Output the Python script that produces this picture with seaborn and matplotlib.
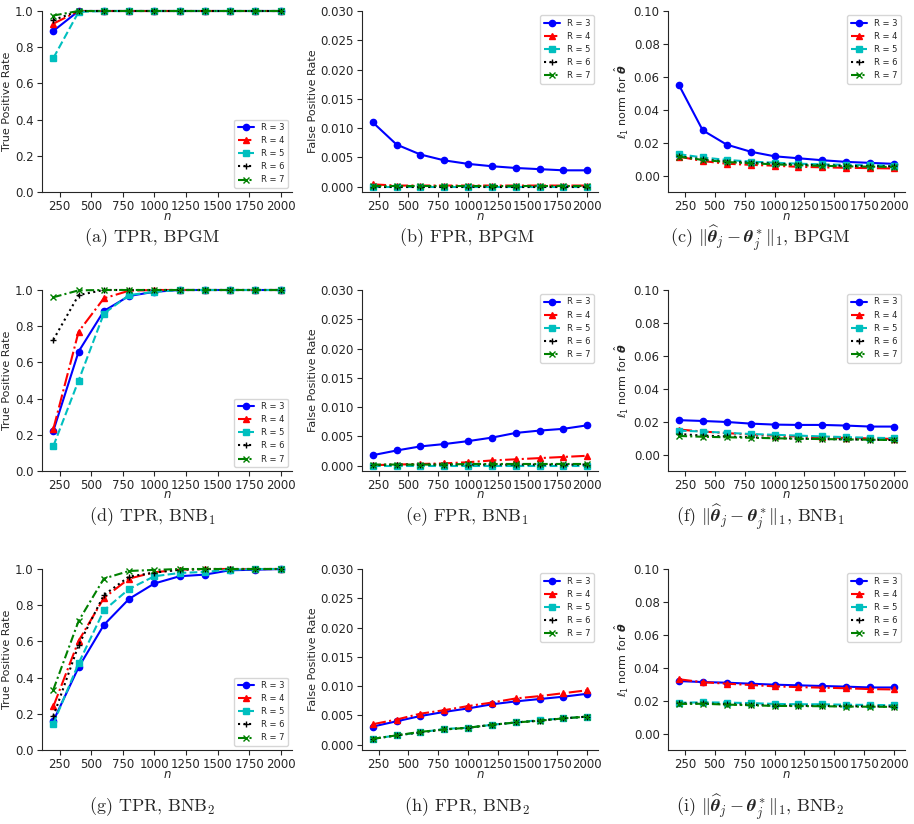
import numpy as np
import pandas as pd
import seaborn as sns
import matplotlib.pyplot as plt

sns.set_style('ticks')

n = [200, 400, 600, 800, 1000, 1200, 1400, 1600, 1800, 2000]
R_labels = ['R = 3', 'R = 4', 'R = 5', 'R = 6', 'R = 7']

# (a) TPR, BPGM   rows: R=3..7
tpr_bpgm = [
    [0.89, 1.0, 1.0, 1.0, 1.0, 1.0, 1.0, 1.0, 1.0, 1.0],
    [0.93, 1.0, 1.0, 1.0, 1.0, 1.0, 1.0, 1.0, 1.0, 1.0],
    [0.74, 0.995, 1.0, 1.0, 1.0, 1.0, 1.0, 1.0, 1.0, 1.0],
    [0.95, 1.0, 1.0, 1.0, 1.0, 1.0, 1.0, 1.0, 1.0, 1.0],
    [0.975, 1.0, 1.0, 1.0, 1.0, 1.0, 1.0, 1.0, 1.0, 1.0],
]
# (b) FPR, BPGM
fpr_bpgm = [
    [0.0110, 0.0072, 0.0055, 0.0045, 0.0039, 0.0035, 0.0032, 0.0030, 0.0028, 0.0028],
    [0.0004, 0.0002, 0.0002, 0.0002, 0.0002, 0.0002, 0.0002, 0.0002, 0.0002, 0.0002],
    [0.0, 0.0, 0.0, 0.0, 0.0, 0.0, 0.0, 0.0, 0.0, 0.0],
    [0.0, 0.0, 0.0, 0.0, 0.0, 0.0, 0.0, 0.0, 0.0, 0.0],
    [0.00005, 0.00005, 0.00005, 0.00005, 0.00005, 0.00005, 0.00005, 0.00005, 0.00005, 0.00005],
]
# (c) l1 norm, BPGM
l1_bpgm = [
    [0.0552, 0.0275, 0.0188, 0.0145, 0.0117, 0.0105, 0.0093, 0.0083, 0.0077, 0.0071],
    [0.0115, 0.0088, 0.0072, 0.0065, 0.0060, 0.0053, 0.0050, 0.0047, 0.0045, 0.0043],
    [0.0130, 0.0110, 0.0095, 0.0085, 0.0078, 0.0072, 0.0068, 0.0065, 0.0063, 0.0060],
    [0.0118, 0.0098, 0.0085, 0.0078, 0.0072, 0.0066, 0.0062, 0.0059, 0.0057, 0.0055],
    [0.0115, 0.0095, 0.0082, 0.0075, 0.0068, 0.0063, 0.0059, 0.0056, 0.0054, 0.0052],
]
# (d) TPR, BNB1
tpr_bnb1 = [
    [0.222, 0.66, 0.884, 0.967, 0.99, 1.0, 1.0, 1.0, 1.0, 1.0],
    [0.233, 0.77, 0.954, 0.996, 1.0, 1.0, 1.0, 1.0, 1.0, 1.0],
    [0.138, 0.50, 0.87, 0.972, 0.99, 1.0, 1.0, 1.0, 1.0, 1.0],
    [0.725, 0.972, 1.0, 1.0, 1.0, 1.0, 1.0, 1.0, 1.0, 1.0],
    [0.96, 0.998, 1.0, 1.0, 1.0, 1.0, 1.0, 1.0, 1.0, 1.0],
]
# (e) FPR, BNB1
fpr_bnb1 = [
    [0.0018, 0.0026, 0.0033, 0.0037, 0.0042, 0.0048, 0.0056, 0.0060, 0.0063, 0.0069],
    [0.0001, 0.0002, 0.0003, 0.0004, 0.0006, 0.0009, 0.0011, 0.0013, 0.0015, 0.0017],
    [0.0, 0.0, 0.0, 0.0, 0.0, 0.0, 0.0, 0.0, 0.0, 0.0],
    [0.0001, 0.0002, 0.0002, 0.0002, 0.0002, 0.0002, 0.0002, 0.0002, 0.0002, 0.0002],
    [0.0002, 0.0002, 0.0002, 0.0002, 0.0003, 0.0003, 0.0003, 0.0003, 0.0003, 0.0003],
]
# (f) l1 norm, BNB1
l1_bnb1 = [
    [0.0209, 0.0204, 0.0198, 0.0188, 0.0182, 0.0180, 0.0180, 0.0176, 0.0170, 0.0170],
    [0.0152, 0.0140, 0.0130, 0.0122, 0.0115, 0.0110, 0.0105, 0.0101, 0.0098, 0.0095],
    [0.0145, 0.0140, 0.0132, 0.0125, 0.0120, 0.0115, 0.0110, 0.0106, 0.0102, 0.0100],
    [0.0125, 0.0115, 0.0110, 0.0105, 0.0100, 0.0097, 0.0094, 0.0092, 0.0090, 0.0088],
    [0.0113, 0.0108, 0.0105, 0.0102, 0.0099, 0.0096, 0.0094, 0.0092, 0.0090, 0.0088],
]
# (g) TPR, BNB2
tpr_bnb2 = [
    [0.161, 0.457, 0.691, 0.835, 0.92, 0.96, 0.969, 0.993, 0.996, 1.0],
    [0.241, 0.603, 0.84, 0.947, 0.982, 0.996, 1.0, 1.0, 1.0, 1.0],
    [0.146, 0.479, 0.771, 0.89, 0.96, 0.978, 0.984, 0.996, 1.0, 1.0],
    [0.186, 0.58, 0.856, 0.958, 0.98, 0.996, 1.0, 1.0, 1.0, 1.0],
    [0.334, 0.713, 0.947, 0.989, 0.995, 1.0, 1.0, 1.0, 1.0, 1.0],
]
# (h) FPR, BNB2
fpr_bnb2 = [
    [0.0031, 0.0040, 0.0049, 0.0056, 0.0062, 0.0069, 0.0074, 0.0078, 0.0082, 0.0087],
    [0.0035, 0.0043, 0.0053, 0.0059, 0.0066, 0.0072, 0.0079, 0.0083, 0.0088, 0.0093],
    [0.0010, 0.0016, 0.0021, 0.0027, 0.0029, 0.0034, 0.0038, 0.0042, 0.0045, 0.0048],
    [0.0010, 0.0016, 0.0021, 0.0026, 0.0029, 0.0034, 0.0038, 0.0041, 0.0045, 0.0048],
    [0.0010, 0.0016, 0.0022, 0.0026, 0.0029, 0.0034, 0.0038, 0.0041, 0.0045, 0.0048],
]
# (i) l1 norm, BNB2
l1_bnb2 = [
    [0.0319, 0.0313, 0.0309, 0.0303, 0.0297, 0.0293, 0.0289, 0.0285, 0.0280, 0.0280],
    [0.0330, 0.0312, 0.0303, 0.0295, 0.0287, 0.0282, 0.0279, 0.0275, 0.0270, 0.0268],
    [0.0187, 0.0190, 0.0188, 0.0185, 0.0180, 0.0178, 0.0178, 0.0175, 0.0174, 0.0172],
    [0.0183, 0.0183, 0.0178, 0.0175, 0.0170, 0.0169, 0.0168, 0.0166, 0.0165, 0.0164],
    [0.0180, 0.0181, 0.0176, 0.0172, 0.0168, 0.0167, 0.0166, 0.0164, 0.0163, 0.0162],
]

colors = ['b', 'r', 'c', 'k', 'g']
styles = ['-', '-.', '--', ':', (0, (4, 1.5, 1, 1.5))]
markers = ['o', '^', 's', '+', 'x']

tpr_ticks = [0.0, 0.2, 0.4, 0.6, 0.8, 1.0]
fpr_ticks = [0.0, 0.005, 0.010, 0.015, 0.020, 0.025, 0.030]
l1_ticks = [0.0, 0.02, 0.04, 0.06, 0.08, 0.10]

theta_hat = r'$\|\widehat{\boldsymbol{\theta}}_j - \boldsymbol{\theta}_j^*\|_1$'
panels = [
    (tpr_bpgm, 'tpr', '(a) TPR, BPGM'),
    (fpr_bpgm, 'fpr', '(b) FPR, BPGM'),
    (l1_bpgm, 'l1', '(c) ' + theta_hat + ', BPGM'),
    (tpr_bnb1, 'tpr', '(d) TPR, BNB$_1$'),
    (fpr_bnb1, 'fpr', '(e) FPR, BNB$_1$'),
    (l1_bnb1, 'l1', '(f) ' + theta_hat + ', BNB$_1$'),
    (tpr_bnb2, 'tpr', '(g) TPR, BNB$_2$'),
    (fpr_bnb2, 'fpr', '(h) FPR, BNB$_2$'),
    (l1_bnb2, 'l1', '(i) ' + theta_hat + ', BNB$_2$'),
]

W, H = 914, 824
fig = plt.figure(figsize=(W / 100, H / 100), dpi=100)

col_x = [(42, 292), (362, 598), (668, 905)]
ylabel_x = [12, 318, 631]
row_top = [11, 290, 569]
ax_h = 181
label_y = [216, 495, 775]
caption_y = [238, 517, 807]
caption_x = [152, 467, 760]

for k, (data, kind, caption) in enumerate(panels):
    r, c = divmod(k, 3)
    x0, x1 = col_x[c]
    ax = fig.add_axes([x0 / W, 1 - (row_top[r] + ax_h) / H, (x1 - x0) / W, ax_h / H])
    for i in range(5):
        df = pd.DataFrame({'n': n, 'v': data[i]})
        sns.lineplot(data=df, x='n', y='v', ax=ax, color=colors[i],
                     linestyle=styles[i], marker=markers[i], markersize=4.5,
                     markeredgecolor=colors[i], markeredgewidth=1.0,
                     linewidth=1.5, label=R_labels[i], clip_on=False)
    if kind == 'tpr':
        ax.set_ylim(0, 1.0)
        ax.set_yticks(tpr_ticks)
        ax.set_yticklabels(['%.1f' % t for t in tpr_ticks])
        ax.set_ylabel('True Positive Rate', fontsize=8)
        loc = 'lower right'
    elif kind == 'fpr':
        ax.set_ylim(-0.0009, 0.030)
        ax.set_yticks(fpr_ticks)
        ax.set_yticklabels(['%.3f' % t for t in fpr_ticks])
        ax.set_ylabel('False Positive Rate', fontsize=8)
        loc = 'upper right'
    else:
        ax.set_ylim(-0.01, 0.10)
        ax.set_yticks(l1_ticks)
        ax.set_yticklabels(['%.2f' % t for t in l1_ticks])
        ax.set_ylabel(r'$\ell_1$ norm for $\hat{\boldsymbol{\theta}}$', fontsize=8)
        loc = 'upper right'
    ax.yaxis.set_label_coords((ylabel_x[c] - x0) / (x1 - x0), 0.5)
    ax.set_xticks([250, 500, 750, 1000, 1250, 1500, 1750, 2000])
    ax.set_xlabel('')
    ax.tick_params(labelsize=8.5, pad=2.5)
    sns.despine(ax=ax)
    ax.legend(loc=loc, fontsize=6)
    fig.text((x0 + x1) / 2 / W, 1 - label_y[r] / H, '$n$', ha='center', va='center',
             fontsize=8.5)
    fig.text(caption_x[c] / W, 1 - caption_y[r] / H, caption, ha='center', va='center',
             fontsize=13, family='cmr10', math_fontfamily='cm')

plt.savefig('out.png', dpi=100)
